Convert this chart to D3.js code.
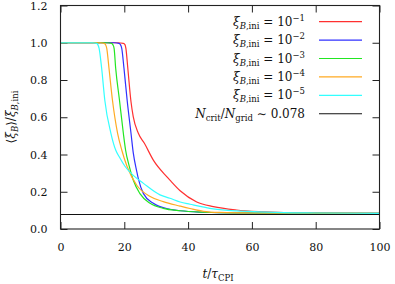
<!DOCTYPE html>
<html>
<head>
<meta charset="utf-8">
<script src="https://cdn.jsdelivr.net/npm/d3@7"></script>
<style>
  body { margin: 0; background: #fff; }
</style>
</head>
<body>
<svg id="chart" width="395" height="284"></svg>
<script>
// values: [t / tau_CPI, <xi_B>/xi_B,ini]
const xiMinus1 = [[0, 1], [18, 1], [19.7, 0.997], [20.2, 0.99], [20.5, 0.97], [21.1, 0.863], [22.1, 0.683],
  [22.8, 0.603], [24.4, 0.514], [26.3, 0.46], [29.1, 0.37], [33.3, 0.281], [34.3, 0.262], [37.5, 0.205],
  [42.7, 0.145], [47.9, 0.12], [55.2, 0.102], [62.5, 0.093], [70, 0.088], [80, 0.086], [100, 0.084]];
const xiMinus2 = [[0, 1], [17, 1], [18.3, 0.997], [18.8, 0.99], [19.2, 0.97], [19.9, 0.863], [20.9, 0.69],
  [22.1, 0.514], [22.8, 0.41], [23.9, 0.31], [24.4, 0.27], [26, 0.19], [29.1, 0.138], [34.3, 0.106],
  [37.5, 0.098], [45, 0.09], [55, 0.086], [100, 0.084]];
const xiMinus3 = [[0, 1], [14.5, 1], [16, 0.997], [16.4, 0.99], [16.8, 0.97], [17.3, 0.863], [18.5, 0.69],
  [19.7, 0.514], [20.4, 0.424], [21.6, 0.334], [22.8, 0.263], [24.9, 0.19], [28.1, 0.138], [32.2, 0.111],
  [37.5, 0.098], [45, 0.09], [55, 0.086], [100, 0.084]];
const xiMinus4 = [[0, 1], [12.5, 1], [13.7, 0.997], [14.1, 0.99], [14.5, 0.97], [15.2, 0.863], [16.3, 0.69],
  [17.9, 0.514], [19.2, 0.424], [20.9, 0.334], [23.9, 0.235], [28.1, 0.175], [32.2, 0.147], [37.5, 0.123],
  [40.6, 0.11], [44.8, 0.095], [50, 0.089], [60, 0.086], [100, 0.084]];
const xiMinus5 = [[0, 1], [10, 1], [11.3, 0.997], [11.7, 0.99], [12.1, 0.97], [12.9, 0.863], [13.9, 0.69],
  [15.8, 0.514], [17.3, 0.424], [18.5, 0.385], [20.2, 0.337], [23, 0.285], [26, 0.245], [31.2, 0.183],
  [34.3, 0.165], [37.5, 0.145], [40.6, 0.133], [47.9, 0.108], [55.2, 0.097], [62.5, 0.092], [70, 0.088],
  [80, 0.086], [100, 0.084]];
const critRatio = 0.078;

const exponents = ['\u22121', '\u22122', '\u22123', '\u22124', '\u22125'];
const seriesColors = ['#ff3030', '#3030ff', '#22e622', '#ffaa22', '#33ffff'];
const xTicks = [0, 20, 40, 60, 80, 100];
const yTicks = [0, 0.2, 0.4, 0.6, 0.8, 1.0, 1.2];

const series = [xiMinus1, xiMinus2, xiMinus3, xiMinus4, xiMinus5];

const FONT = 'DejaVu Serif';

const svg = d3.select('#chart').attr('font-family', FONT);
const plot = { left: 60.5, right: 379.5, top: 5.5, bottom: 229 };

const x = d3.scaleLinear().domain([0, 100]).range([plot.left, plot.right]);
const y = d3.scaleLinear().domain([0, 1.2]).range([plot.bottom, plot.top]);

// axes: inward ticks on all four sides
function styleAxis(g) {
  g.attr('font-family', FONT);
  g.select('.domain').remove();
  g.selectAll('.tick line').attr('stroke', '#222').attr('stroke-width', 1);
  g.selectAll('.tick text').attr('fill', '#111').attr('font-family', FONT).attr('font-size', 11);
}

svg.append('g')
  .attr('transform', `translate(0,${plot.bottom})`)
  .call(d3.axisBottom(x).tickValues(xTicks).tickFormat(d3.format('d')).tickSizeInner(-7).tickSizeOuter(0).tickPadding(14))
  .call(styleAxis);
svg.append('g')
  .attr('transform', `translate(0,${plot.top})`)
  .call(d3.axisTop(x).tickValues(xTicks).tickFormat('').tickSizeInner(-7).tickSizeOuter(0))
  .call(styleAxis);
svg.append('g')
  .attr('transform', `translate(${plot.left},0)`)
  .call(d3.axisLeft(y).tickValues(yTicks).tickFormat(d3.format('.1f')).tickSizeInner(-7).tickSizeOuter(0).tickPadding(13))
  .call(styleAxis);
svg.append('g')
  .attr('transform', `translate(${plot.right},0)`)
  .call(d3.axisRight(y).tickValues(yTicks).tickFormat('').tickSizeInner(-7).tickSizeOuter(0))
  .call(styleAxis);

// reference line
svg.append('line')
  .attr('x1', x(0)).attr('x2', x(100))
  .attr('y1', y(critRatio)).attr('y2', y(critRatio))
  .attr('stroke', '#111').attr('stroke-width', 1.1);

const line = d3.line()
  .x(d => x(d[0]))
  .y(d => y(d[1]))
  .curve(d3.curveMonotoneX);

svg.append('g').selectAll('path')
  .data(series)
  .join('path')
  .attr('d', line)
  .attr('fill', 'none')
  .attr('stroke', (d, i) => seriesColors[i])
  .attr('stroke-width', 1.2);

// frame
svg.append('rect')
  .attr('x', plot.left).attr('y', plot.top)
  .attr('width', plot.right - plot.left).attr('height', plot.bottom - plot.top)
  .attr('fill', 'none').attr('stroke', '#222').attr('stroke-width', 1.1);

// legend
const legend = svg.append('g').attr('font-size', 12).attr('font-family', FONT).attr('fill', '#111');
const rowY = i => 21.7 + i * 18.4;

exponents.forEach((e, i) => {
  const t = legend.append('text').attr('x', 305).attr('y', rowY(i) + 4).attr('text-anchor', 'end');
  t.append('tspan').attr('font-style', 'italic').text('\u03be');
  const s = t.append('tspan').attr('dy', 3).attr('font-size', 8.5);
  s.append('tspan').attr('font-style', 'italic').text('B');
  s.append('tspan').text(',ini');
  t.append('tspan').attr('dy', -3).text(' = 10');
  t.append('tspan').attr('dy', -5).attr('font-size', 8.5).text(e);
  legend.append('line')
    .attr('x1', 319).attr('x2', 362).attr('y1', rowY(i)).attr('y2', rowY(i))
    .attr('stroke', seriesColors[i]).attr('stroke-width', 1.2);
});

{
  const i = 5;
  const t = legend.append('text').attr('x', 305).attr('y', rowY(i) + 4).attr('text-anchor', 'end');
  t.append('tspan').attr('font-style', 'italic').text('N');
  t.append('tspan').attr('dy', 3).attr('font-size', 8.5).text('crit');
  t.append('tspan').attr('dy', -3).text('/');
  t.append('tspan').attr('font-style', 'italic').text('N');
  t.append('tspan').attr('dy', 3).attr('font-size', 8.5).text('grid');
  t.append('tspan').attr('dy', -3).text(' \u223c ' + critRatio.toFixed(3));
  legend.append('line')
    .attr('x1', 319).attr('x2', 362).attr('y1', rowY(i)).attr('y2', rowY(i))
    .attr('stroke', '#111').attr('stroke-width', 1.1);
}

// axis titles
const xt = svg.append('text').attr('x', 218).attr('y', 278).attr('text-anchor', 'middle')
  .attr('font-size', 12).attr('fill', '#111');
xt.append('tspan').attr('font-style', 'italic').text('t');
xt.append('tspan').text('/');
xt.append('tspan').attr('font-style', 'italic').text('\u03c4');
xt.append('tspan').attr('dy', 3).attr('font-size', 8.5).text('CPI');

const yt = svg.append('text').attr('transform', 'translate(15,117) rotate(-90)').attr('text-anchor', 'middle')
  .attr('font-size', 12).attr('fill', '#111');
yt.append('tspan').text('\u27e8');
yt.append('tspan').attr('font-style', 'italic').text('\u03be');
yt.append('tspan').attr('dy', 3).attr('font-size', 8.5).attr('font-style', 'italic').text('B');
yt.append('tspan').attr('dy', -3).text('\u27e9/');
yt.append('tspan').attr('font-style', 'italic').text('\u03be');
const sub = yt.append('tspan').attr('dy', 3).attr('font-size', 8.5);
sub.append('tspan').attr('font-style', 'italic').text('B');
sub.append('tspan').text(',ini');
</script>
</body>
</html>
